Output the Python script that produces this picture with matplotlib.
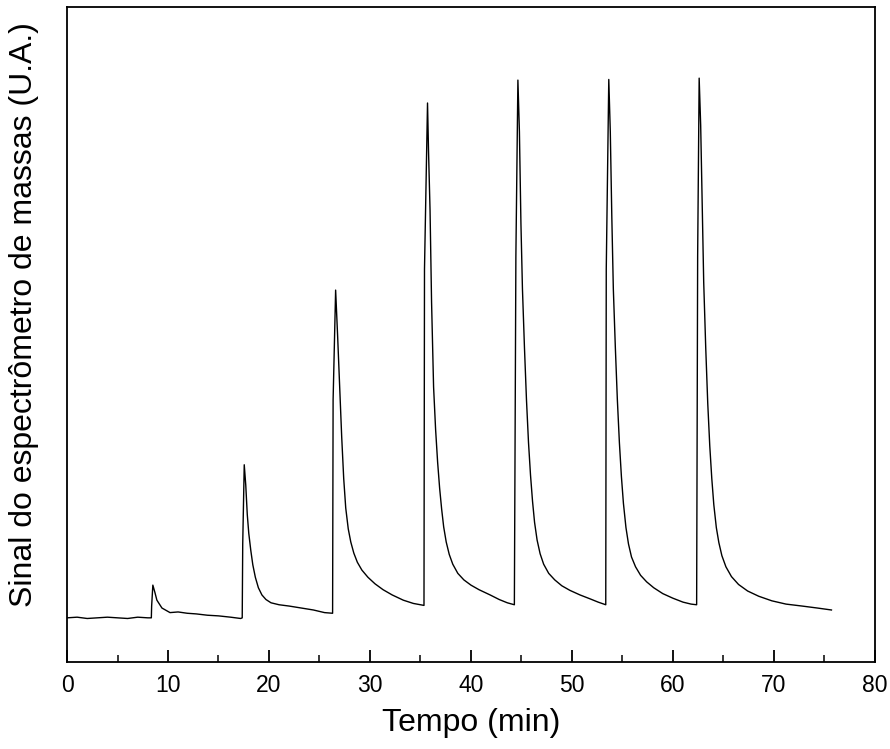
import numpy as np
import matplotlib.pyplot as plt

# values (signal in arbitrary units, axis 0..100)
t0 = [0, 1, 2, 3, 4, 5, 6, 7, 8, 8.35]
s0 = [6.7, 6.8, 6.6, 6.7, 6.8, 6.7, 6.6, 6.8, 6.7, 6.7]

t1 = [8.38, 8.5, 8.7, 8.9, 9.4, 10.2, 11.0, 11.9, 12.8, 13.9, 15.0, 16.2, 17.2, 17.35]
s1 = [8.5, 11.7, 10.6, 9.4, 8.2, 7.5, 7.6, 7.4, 7.3, 7.1, 7.0, 6.8, 6.6, 6.7]

t2 = [17.4, 17.55, 17.7, 17.85, 18.0, 18.2, 18.4, 18.65, 18.95, 19.3, 19.7, 20.2,
      21.0, 22.0, 23.2, 24.4, 25.5, 26.3]
s2 = [18.0, 30.1, 27.0, 22.5, 19.6, 17.0, 14.8, 12.9, 11.3, 10.2, 9.5, 9.0,
      8.7, 8.5, 8.2, 7.9, 7.5, 7.4]

t3 = [26.35, 26.6, 26.8, 27.0, 27.2, 27.4, 27.6, 27.85, 28.1, 28.4, 28.75, 29.2,
      29.8, 30.5, 31.3, 32.2, 33.3, 34.3, 35.35]
s3 = [40.0, 56.8, 49.7, 42.0, 34.4, 28.0, 23.5, 20.3, 18.3, 16.6, 15.2, 14.0,
      12.9, 11.9, 11.0, 10.2, 9.4, 8.9, 8.6]

t4 = [35.4, 35.7, 35.8, 35.95, 36.1, 36.3, 36.5, 36.7, 36.9, 37.1, 37.3, 37.55,
      37.85, 38.2, 38.7, 39.3, 40.0, 40.8, 41.9, 42.8, 43.6, 44.3]
s4 = [60.0, 85.4, 78.0, 69.0, 55.0, 42.0, 35.5, 30.5, 26.5, 23.3, 20.6, 18.3,
      16.4, 14.9, 13.5, 12.5, 11.7, 11.0, 10.2, 9.5, 9.0, 8.7]

t5 = [44.45, 44.65, 44.8, 44.95, 45.1, 45.3, 45.5, 45.7, 45.9, 46.1, 46.3, 46.55,
      46.85, 47.2, 47.7, 48.3, 49.0, 49.8, 50.8, 51.8, 52.6, 53.35]
s5 = [62.0, 88.9, 81.0, 67.0, 57.0, 48.0, 40.0, 33.5, 28.5, 24.5, 21.3, 18.6,
      16.5, 14.9, 13.5, 12.5, 11.6, 10.9, 10.2, 9.6, 9.1, 8.7]

t6 = [53.4, 53.65, 53.8, 53.95, 54.1, 54.3, 54.5, 54.7, 54.9, 55.1, 55.35, 55.6,
      55.9, 56.3, 56.8, 57.4, 58.1, 59.0, 60.0, 61.0, 61.8, 62.35]
s6 = [60.0, 89.0, 81.0, 68.0, 57.0, 48.0, 40.0, 33.5, 28.3, 24.2, 20.5, 18.0,
      16.0, 14.5, 13.2, 12.2, 11.3, 10.4, 9.7, 9.1, 8.8, 8.7]

t7 = [62.45, 62.6, 62.75, 62.9, 63.05, 63.25, 63.45, 63.65, 63.85, 64.05, 64.3,
      64.55, 64.85, 65.25, 65.8, 66.5, 67.4, 68.5, 69.8, 71.2, 72.8, 74.3, 75.7]
s7 = [62.0, 89.2, 82.0, 70.0, 58.0, 48.0, 39.5, 33.0, 28.0, 24.0, 20.5,
      18.2, 16.2, 14.5, 13.0, 11.8, 10.8, 10.0, 9.3, 8.8, 8.5, 8.2, 7.9]

tempo = np.concatenate([t0, t1, t2, t3, t4, t5, t6, t7])
sinal = np.concatenate([s0, s1, s2, s3, s4, s5, s6, s7])

plt.rcParams['font.family'] = ['Liberation Sans', 'DejaVu Sans']

fig = plt.figure(figsize=(8.9, 7.49), dpi=100)
ax = fig.add_axes([0.0753, 0.1166, 0.9077, 0.8734])

ax.plot(tempo, sinal, color='black', lw=1.0)

ax.set_xlim(0, 80)
ax.set_ylim(0, 100)
ax.set_xticks(np.arange(0, 81, 10))
ax.set_xticks(np.arange(5, 80, 10), minor=True)
ax.set_yticks([])
ax.tick_params(axis='x', which='major', direction='in', length=9, width=1.3,
               labelsize=16.5, pad=9)
ax.tick_params(axis='x', which='minor', direction='in', length=5, width=1.1)
for sp in ax.spines.values():
    sp.set_linewidth(1.3)

ax.set_xlabel('Tempo (min)', fontsize=23, labelpad=8)
ax.set_ylabel('Sinal do espectrômetro de massas (U.A.)', fontsize=23)
ax.yaxis.set_label_coords(-0.035, 0.53)

plt.savefig('out.png')
